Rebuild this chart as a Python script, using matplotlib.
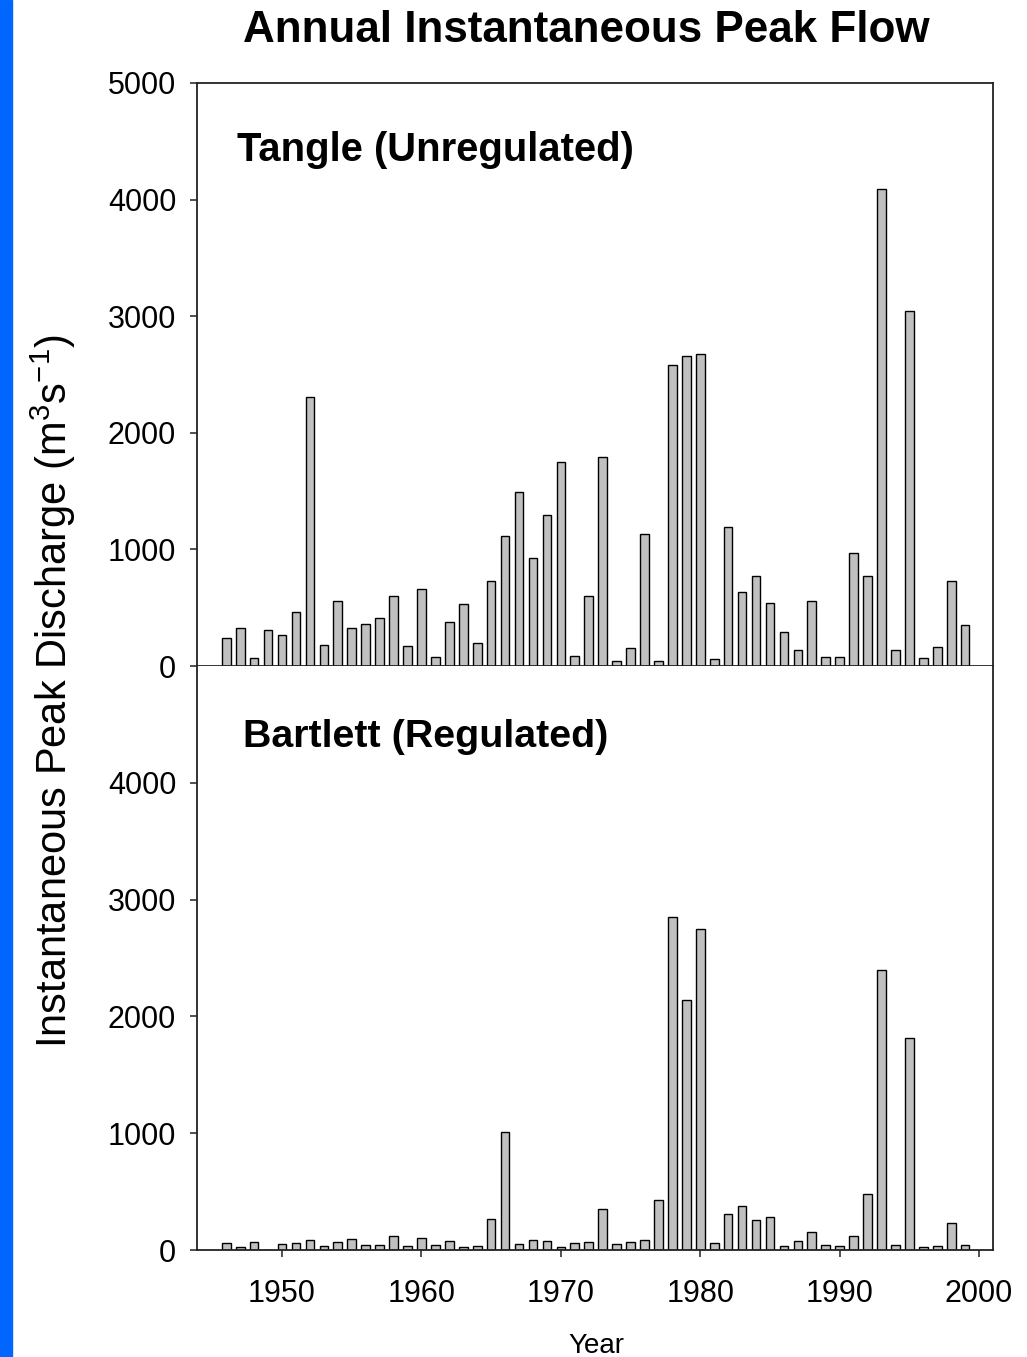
import numpy as np
import matplotlib
matplotlib.use("Agg")
import matplotlib.pyplot as plt
from matplotlib.patches import Rectangle

plt.rcParams['font.family'] = ['Liberation Sans', 'DejaVu Sans']
plt.rcParams['mathtext.default'] = 'regular'

# data (m3/s)
years = np.arange(1946, 2000)
tangle = [242, 322, 71, 311, 265, 464, 2305, 182, 558, 325,
          362, 410, 598, 171, 661, 77, 376, 533, 197, 726,
          1111, 1496, 923, 1293, 1749, 85, 598, 1792, 43, 154,
          1128, 46, 2584, 2655, 2678, 57, 1188, 632, 769, 544,
          291, 140, 558, 74, 77, 966, 769, 4094, 134, 3048,
          68, 160, 726, 350]
bartlett = [57, 28, 66, 0, 48, 60, 88, 34, 71, 91,
            40, 43, 117, 37, 100, 46, 77, 28, 37, 268,
            1006, 54, 88, 77, 28, 63, 66, 348, 51, 71,
            83, 425, 2855, 2142, 2749, 57, 305, 376, 254, 279,
            31, 80, 151, 40, 37, 120, 479, 2393, 46, 1812,
            26, 31, 231, 40]
top_yticks = [0, 1000, 2000, 3000, 4000, 5000]
bot_yticks = [0, 1000, 2000, 3000, 4000]
xticks = [1950, 1960, 1970, 1980, 1990, 2000]

W, H = 1027, 1357
fig = plt.figure(figsize=(W / 100, H / 100), dpi=100)

# blue strip on the left edge
fig.patches.append(Rectangle((0, 0), 12 / W, 1, transform=fig.transFigure,
                             color='#0066ff', zorder=0))

left = 197 / W
width = (993 - 197) / W
ax1 = fig.add_axes([left, 1 - 666 / H, width, (666 - 83) / H])
ax2 = fig.add_axes([left, 1 - 1250 / H, width, (1250 - 666) / H])

for ax, vals in [(ax1, tangle), (ax2, bartlett)]:
    ax.bar(years, vals, width=0.62, color='#c0c0c0', edgecolor='black',
           linewidth=1.0)
    ax.set_xlim(1943.9, 2001.0)
    ax.set_ylim(0, 5000)
    for s in ax.spines.values():
        s.set_linewidth(1.3)
        s.set_color('#222222')
    ax.tick_params(direction='out', length=5, width=1.1, labelsize=22,
                   pad=10, color='#222222')

ax1.set_yticks(top_yticks)
ax1.set_xticks([])
ax2.set_yticks(bot_yticks)
ax2.spines['top'].set_visible(False)
ax2.set_xticks(xticks)
ax2.tick_params(axis='x', pad=16)

ax1.text(0.05, 0.885, 'Tangle (Unregulated)', transform=ax1.transAxes,
         fontsize=28.8, fontweight='bold', va='center', ha='left')
ax2.text(0.058, 0.878, 'Bartlett (Regulated)', transform=ax2.transAxes,
         fontsize=28.4, fontweight='bold', va='center', ha='left')

fig.text(586 / W, 1 - 30 / H, 'Annual Instantaneous Peak Flow',
         fontsize=31.7, fontweight='bold', ha='center', va='center')
fig.text(53 / W, 1 - 691 / H,
         'Instantaneous Peak Discharge (m$^{3}$s$^{-1}$)',
         fontsize=30, rotation=90, ha='center', va='center')
fig.text(596 / W, 1 - 1346 / H, 'Year', fontsize=20,
         ha='center', va='center')

fig.savefig('out.png', dpi=100)
